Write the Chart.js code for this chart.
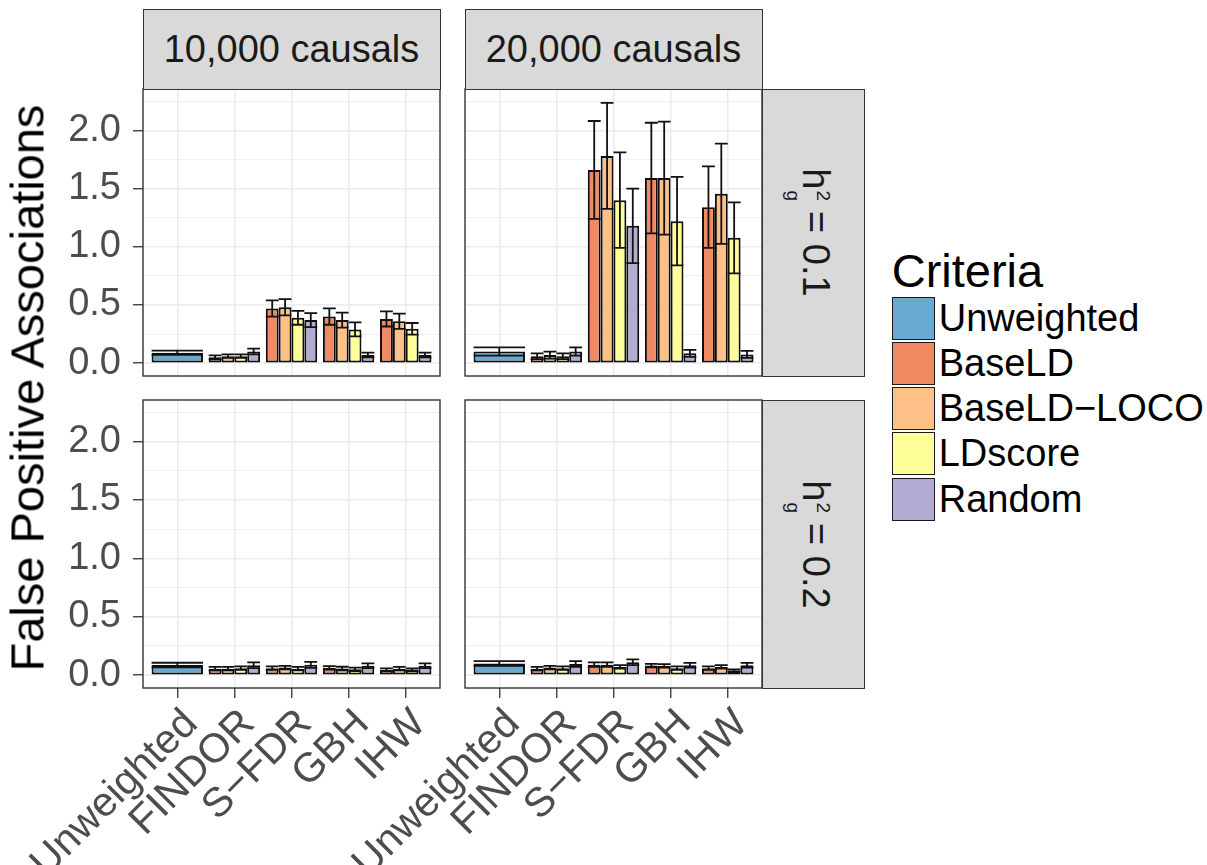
<!DOCTYPE html>
<html>
<head>
<meta charset="utf-8">
<script src="https://cdn.jsdelivr.net/npm/chart.js@4.4.1/dist/chart.umd.min.js"></script>
<style>
html,body{margin:0;padding:0;background:#fff;}
body{width:1207px;height:865px;position:relative;overflow:hidden;font-family:"Liberation Sans",Arial,Helvetica,sans-serif;}
canvas{position:absolute;}
.strip{position:absolute;background:#d9d9d9;border:1.3px solid #333;box-sizing:border-box;color:#1a1a1a;font-size:38px;display:flex;align-items:center;justify-content:center;z-index:3;white-space:nowrap;}
.rot{display:inline-block;transform:rotate(90deg);white-space:nowrap;margin-left:4px;}
.ss{position:relative;display:inline-block;width:11px;height:1px;}
.ss span{position:absolute;left:1px;font-size:19px;line-height:1;}
.sup{bottom:11px;}
.sub{bottom:-19px;}
#ytitle{position:absolute;left:27px;top:388px;transform:translate(-50%,-50%) rotate(-90deg);font-size:47px;color:#000;white-space:nowrap;z-index:3;}
#legend{position:absolute;left:891.7px;top:0;z-index:3;}
.ltitle{position:absolute;left:0;top:247px;font-size:47px;line-height:1;color:#000;white-space:nowrap;}
.key{position:absolute;left:0;width:43px;height:43px;border:1.5px solid #1a1a1a;box-sizing:border-box;}
.klab{position:absolute;left:47px;font-size:38px;height:43px;line-height:43px;color:#000;white-space:nowrap;}
</style>
</head>
<body>
<canvas id="c1"></canvas>
<canvas id="c3"></canvas>
<canvas id="c2"></canvas>
<canvas id="c4"></canvas>

<div class="strip" style="left:142.5px;top:9px;width:298px;height:80.5px;">10,000 causals</div>
<div class="strip" style="left:464.5px;top:9px;width:298px;height:80.5px;">20,000 causals</div>
<div class="strip" style="left:761.5px;top:88.5px;width:103px;height:288px;"><span class="rot">h<span class="ss"><span class="sup">2</span><span class="sub">g</span></span> = 0.1</span></div>
<div class="strip" style="left:761.5px;top:399.5px;width:103px;height:289px;"><span class="rot">h<span class="ss"><span class="sup">2</span><span class="sub">g</span></span> = 0.2</span></div>
<div id="ytitle">False Positive Associations</div>
<div id="legend"><div class="ltitle">Criteria</div></div>

<script>
// ---------- categories / series ----------
const categories = ['Unweighted', 'FINDOR', 'S\u2212FDR', 'GBH', 'IHW'];
const seriesNames = ['Unweighted', 'BaseLD', 'BaseLD\u2212LOCO', 'LDscore', 'Random'];
const seriesColors = ['#67a9cf', '#ef8a62', '#fdc086', '#ffff99', '#b2abd2'];

// Unweighted bar (category "Unweighted") per panel: [10k h.1, 20k h.1, 10k h.2, 20k h.2]
const unweightedMean = [0.09, 0.10, 0.086, 0.10];
const unweightedErr  = [0.018, 0.035, 0.02, 0.02];

// Values for FINDOR, S-FDR, GBH, IHW
// 10,000 causals, h2 = 0.1
const baseLD_10k_h01     = [0.05, 0.47, 0.40, 0.38];
const baseLDErr_10k_h01  = [0.018, 0.07, 0.07, 0.065];
const loco_10k_h01       = [0.06, 0.48, 0.37, 0.36];
const locoErr_10k_h01    = [0.015, 0.07, 0.065, 0.065];
const ldscore_10k_h01    = [0.06, 0.39, 0.29, 0.295];
const ldscoreErr_10k_h01 = [0.015, 0.06, 0.06, 0.05];
const random_10k_h01     = [0.10, 0.37, 0.07, 0.07];
const randomErr_10k_h01  = [0.025, 0.06, 0.02, 0.02];

// 20,000 causals, h2 = 0.1
const baseLD_20k_h01     = [0.06, 1.66, 1.59, 1.34];
const baseLDErr_20k_h01  = [0.025, 0.42, 0.475, 0.35];
const loco_20k_h01       = [0.07, 1.78, 1.59, 1.455];
const locoErr_20k_h01    = [0.03, 0.455, 0.485, 0.43];
const ldscore_20k_h01    = [0.06, 1.40, 1.22, 1.077];
const ldscoreErr_20k_h01 = [0.025, 0.41, 0.38, 0.305];
const random_20k_h01     = [0.10, 1.18, 0.085, 0.075];
const randomErr_20k_h01  = [0.035, 0.32, 0.03, 0.03];

// 10,000 causals, h2 = 0.2
const baseLD_10k_h02     = [0.055, 0.06, 0.063, 0.045];
const baseLDErr_10k_h02  = [0.015, 0.015, 0.015, 0.013];
const loco_10k_h02       = [0.055, 0.065, 0.057, 0.055];
const locoErr_10k_h02    = [0.015, 0.015, 0.015, 0.015];
const ldscore_10k_h02    = [0.06, 0.055, 0.05, 0.045];
const ldscoreErr_10k_h02 = [0.015, 0.015, 0.015, 0.012];
const random_10k_h02     = [0.085, 0.088, 0.08, 0.08];
const randomErr_10k_h02  = [0.025, 0.025, 0.02, 0.02];

// 20,000 causals, h2 = 0.2
const baseLD_20k_h02     = [0.055, 0.09, 0.082, 0.06];
const baseLDErr_20k_h02  = [0.015, 0.02, 0.015, 0.015];
const loco_20k_h02       = [0.065, 0.09, 0.08, 0.07];
const locoErr_20k_h02    = [0.015, 0.02, 0.015, 0.015];
const ldscore_20k_h02    = [0.06, 0.07, 0.06, 0.04];
const ldscoreErr_20k_h02 = [0.015, 0.015, 0.015, 0.01];
const random_20k_h02     = [0.095, 0.11, 0.085, 0.085];
const randomErr_20k_h02  = [0.025, 0.025, 0.02, 0.02];

// axis limits
const yMin = -0.11, yMax = 2.355;
const yStep = 0.25;

const FONT = '"Liberation Sans", Arial, Helvetica, sans-serif';

// ---------- legend ----------
const legend = document.getElementById('legend');
seriesNames.forEach((name, i) => {
  const top = 296.7 + i * 45.2;
  const k = document.createElement('div');
  k.className = 'key'; k.style.top = top + 'px'; k.style.background = seriesColors[i];
  legend.appendChild(k);
  const l = document.createElement('div');
  l.className = 'klab'; l.style.top = top + 'px'; l.textContent = name;
  legend.appendChild(l);
});

// ---------- plugins ----------
const errorBarPlugin = {
  id: 'errorBars',
  afterDatasetsDraw(chart) {
    const ctx = chart.ctx, ys = chart.scales.y;
    ctx.save();
    ctx.strokeStyle = '#111';
    ctx.lineWidth = 1.8;
    chart.data.datasets.forEach((ds, di) => {
      const meta = chart.getDatasetMeta(di);
      meta.data.forEach((bar, i) => {
        const p = ds.data[i];
        if (p.y === null || p.y === undefined) return;
        const e = ds.errors[i];
        const {x, width} = bar.getProps(['x', 'width'], true);
        const t = ys.getPixelForValue(p.y + e), b = ys.getPixelForValue(p.y - e);
        const h = width / 2;
        ctx.beginPath();
        ctx.moveTo(x, t); ctx.lineTo(x, b);
        ctx.moveTo(x - h, t); ctx.lineTo(x + h, t);
        ctx.moveTo(x - h, b); ctx.lineTo(x + h, b);
        ctx.stroke();
      });
    });
    ctx.restore();
  }
};
const panelBorderPlugin = {
  id: 'panelBorder',
  afterDraw(chart) {
    const {ctx, chartArea: a} = chart;
    ctx.save();
    ctx.strokeStyle = '#333';
    ctx.lineWidth = 1.4;
    ctx.strokeRect(a.left, a.top, a.right - a.left, a.bottom - a.top);
    ctx.restore();
  }
};

const isMajor = v => Math.abs(v * 2 - Math.round(v * 2)) < 1e-6;

function makeChart(id, pos, uMean, uErr, means, errs) {
  const canvas = document.getElementById(id);
  const w = 441, h = pos.bottomRow ? 469 : 295;
  canvas.width = w; canvas.height = h;
  canvas.style.left = pos.left + 'px'; canvas.style.top = pos.top + 'px';
  canvas.style.width = w + 'px'; canvas.style.height = h + 'px';

  const datasets = [{
    label: seriesNames[0], backgroundColor: seriesColors[0],
    data: categories.map((c, i) => ({x: i, y: i === 0 ? uMean : null})),
    errors: categories.map((c, i) => i === 0 ? uErr : null)
  }];
  for (let s = 0; s < 4; s++) {
    datasets.push({
      label: seriesNames[s + 1], backgroundColor: seriesColors[s + 1],
      data: categories.map((c, i) => ({x: i, y: i === 0 ? null : means[s][i - 1]})),
      errors: categories.map((c, i) => i === 0 ? null : errs[s][i - 1])
    });
  }

  return new Chart(canvas, {
    type: 'bar',
    data: {datasets},
    options: {
      responsive: false, animation: false, devicePixelRatio: 1,
      layout: {padding: {top: 4, right: 4, left: 0, bottom: pos.bottomRow ? 0 : 4}},
      plugins: {legend: {display: false}, tooltip: {enabled: false}},
      datasets: {bar: {skipNull: true, categoryPercentage: 0.9, barPercentage: 1,
        borderColor: '#0d0d0d', borderWidth: 2, borderSkipped: false}},
      scales: {
        x: {
          type: 'linear', min: -0.6, max: 4.6, offset: false,
          grid: {offset: false, color: '#ebebeb', lineWidth: 1.5, drawTicks: pos.bottomRow,
                 tickLength: 10, tickColor: '#333', tickWidth: 1.3},
          border: {display: false},
          ticks: {display: pos.bottomRow, stepSize: 1, includeBounds: false, autoSkip: false,
                  minRotation: 45, maxRotation: 45, padding: 2, labelOffset: 14, color: '#4d4d4d',
                  font: {family: FONT, size: 41},
                  callback: v => categories[Math.round(v)] ?? ''},
          afterFit: s => { s.height = pos.bottomRow ? 177 : 0; s.paddingLeft = 0; s.paddingRight = 0; }
        },
        y: {
          type: 'linear', min: yMin, max: yMax,
          grid: {color: '#ebebeb',
                 lineWidth: c => (c.tick && !isMajor(c.tick.value)) ? 0.75 : 1.5,
                 drawTicks: pos.leftCol, tickLength: 10,
                 tickColor: c => (c.tick && !isMajor(c.tick.value)) ? 'rgba(0,0,0,0)' : '#333',
                 tickWidth: 1.3},
          border: {display: false},
          ticks: {display: pos.leftCol, stepSize: yStep, includeBounds: false, autoSkip: false,
                  padding: 12, color: '#4d4d4d', font: {family: FONT, size: 38},
                  callback: v => isMajor(v) ? v.toFixed(1) : ''},
          afterFit: s => { s.width = 140; s.paddingTop = 0; s.paddingBottom = 0; }
        }
      }
    },
    plugins: [errorBarPlugin, panelBorderPlugin]
  });
}

makeChart('c1', {left: 3, top: 85, bottomRow: false, leftCol: true},
  unweightedMean[0], unweightedErr[0],
  [baseLD_10k_h01, loco_10k_h01, ldscore_10k_h01, random_10k_h01],
  [baseLDErr_10k_h01, locoErr_10k_h01, ldscoreErr_10k_h01, randomErr_10k_h01]);
makeChart('c2', {left: 325, top: 85, bottomRow: false, leftCol: false},
  unweightedMean[1], unweightedErr[1],
  [baseLD_20k_h01, loco_20k_h01, ldscore_20k_h01, random_20k_h01],
  [baseLDErr_20k_h01, locoErr_20k_h01, ldscoreErr_20k_h01, randomErr_20k_h01]);
makeChart('c3', {left: 3, top: 396, bottomRow: true, leftCol: true},
  unweightedMean[2], unweightedErr[2],
  [baseLD_10k_h02, loco_10k_h02, ldscore_10k_h02, random_10k_h02],
  [baseLDErr_10k_h02, locoErr_10k_h02, ldscoreErr_10k_h02, randomErr_10k_h02]);
makeChart('c4', {left: 325, top: 396, bottomRow: true, leftCol: false},
  unweightedMean[3], unweightedErr[3],
  [baseLD_20k_h02, loco_20k_h02, ldscore_20k_h02, random_20k_h02],
  [baseLDErr_20k_h02, locoErr_20k_h02, ldscoreErr_20k_h02, randomErr_20k_h02]);
</script>
</body>
</html>
